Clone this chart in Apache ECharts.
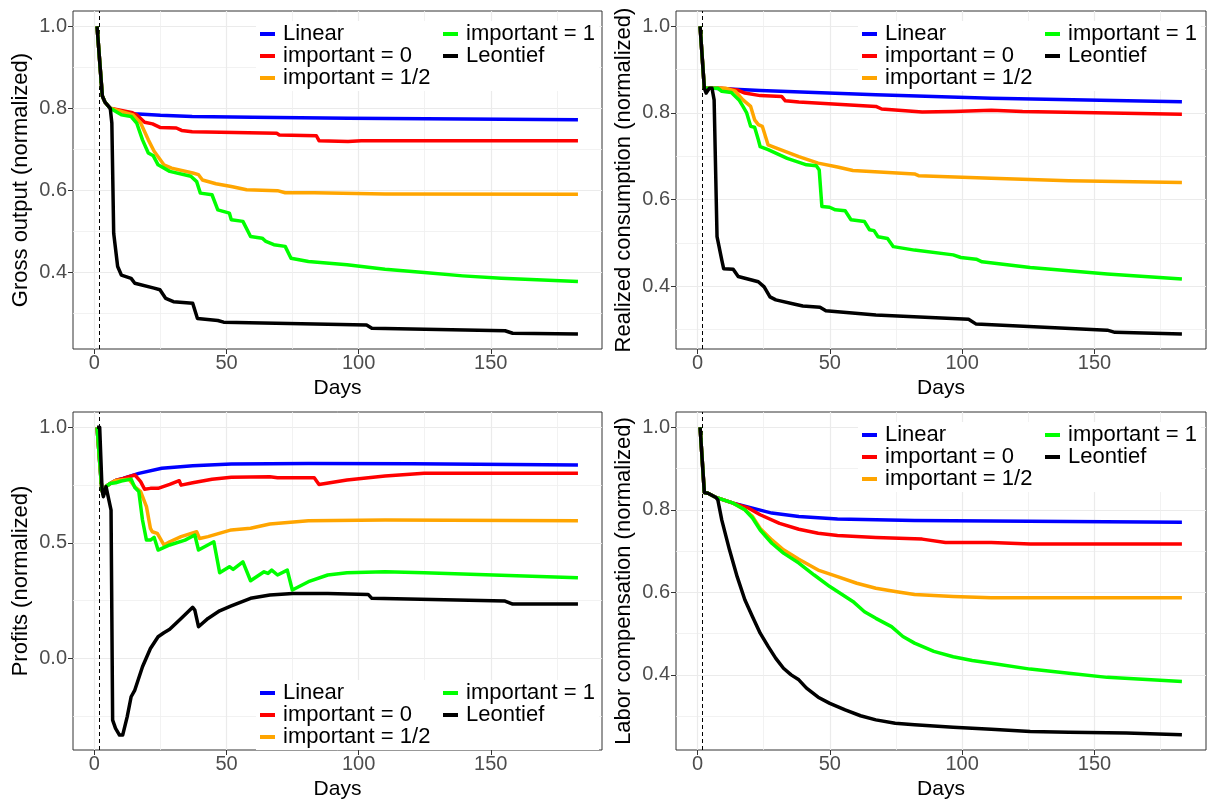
<!DOCTYPE html>
<html>
<head>
<meta charset="utf-8">
<script src="https://cdn.jsdelivr.net/npm/echarts@6/dist/echarts.min.js"></script>
<style>
html,body{margin:0;padding:0;background:#fff;}
#chart{width:1210px;height:803px;}
</style>
</head>
<body>
<div id="chart"></div>
<script>
// ---------- DATA ----------
const seriesNames = ['Linear', 'important = 0', 'important = 1/2', 'important = 1', 'Leontief'];
const seriesColors = ['#0000FF', '#FF0000', '#FFA500', '#00FF00', '#000000'];
const xMajorTicks = [0, 50, 100, 150];
const xMinorTicks = [25, 75, 125, 175];
const yTicksA = [0.4, 0.6, 0.8, 1.0];
const yMinorA = [0.3, 0.5, 0.7, 0.9];
const yTicksProfits = [0.0, 0.5, 1.0];
const yMinorProfits = [-0.25, 0.25, 0.75];
const shockDay = 2;

// Gross output
const grossLinear = [[1,1],[1.5,1],[3,0.83],[4,0.815],[6,0.80],[10,0.792],[15,0.787],[25,0.783],[37,0.780],[60,0.778],[96,0.776],[140,0.774],[183,0.772]];
const grossImp0 = [[1,1],[1.5,1],[3,0.83],[4,0.815],[6,0.80],[14,0.79],[16,0.784],[19,0.766],[22,0.762],[25,0.753],[31,0.752],[33,0.746],[37,0.743],[69,0.739],[70,0.735],[84,0.733],[85,0.721],[96,0.719],[101,0.721],[183,0.721]];
const grossImpHalf = [[1,1],[1.5,1],[3,0.83],[4,0.815],[6,0.80],[14.6,0.784],[17.5,0.764],[20.4,0.723],[22.6,0.695],[26.3,0.662],[29.2,0.654],[37.2,0.642],[39.4,0.638],[40.9,0.625],[46,0.616],[51.8,0.609],[57.6,0.601],[69.3,0.599],[72.2,0.594],[83.2,0.594],[83.9,0.591],[110,0.591],[183,0.590]];
const grossImp1 = [[1,1],[1.5,1],[3,0.83],[4,0.815],[6,0.80],[10.2,0.784],[13.9,0.78],[16,0.764],[18.2,0.723],[20.4,0.691],[22.3,0.684],[24.1,0.662],[28.5,0.646],[36.5,0.634],[38.7,0.621],[40.1,0.593],[44.5,0.589],[46.7,0.552],[51.1,0.544],[51.8,0.528],[56.2,0.524],[59.1,0.487],[63.5,0.483],[64.9,0.475],[67.9,0.467],[72.2,0.463],[74.4,0.434],[81,0.426],[95.6,0.418],[110,0.407],[124.8,0.399],[139.4,0.391],[154,0.385],[183,0.377]];
const grossLeontief = [[1,1],[1.5,1],[3,0.83],[4,0.815],[6,0.80],[6.6,0.764],[7.3,0.495],[8.8,0.414],[10.2,0.393],[13.9,0.385],[15.3,0.373],[22.6,0.361],[24.8,0.357],[27,0.336],[29.9,0.328],[37.2,0.324],[39,0.287],[46.7,0.282],[48.9,0.278],[103,0.271],[105,0.263],[155.4,0.257],[158.3,0.251],[183,0.249]];

// Realized consumption
const consLinear = [[1,1],[1.5,1],[2.6,0.857],[6,0.857],[23.7,0.852],[67.4,0.842],[111,0.834],[183,0.826]];
const consImp0 = [[1,1],[1.5,1],[2.6,0.857],[9.2,0.857],[15,0.853],[17.9,0.846],[23.7,0.84],[31.8,0.838],[33.2,0.828],[38.3,0.825],[67.4,0.815],[69.6,0.809],[84.9,0.802],[96.6,0.803],[111,0.806],[122.8,0.803],[183,0.797]];
const consImpHalf = [[1,1],[1.5,1],[2.6,0.857],[10.6,0.857],[14.3,0.85],[17.2,0.83],[20.1,0.815],[21.6,0.784],[23,0.773],[24.5,0.769],[26.7,0.726],[29.6,0.719],[38.3,0.699],[45.6,0.684],[52.9,0.675],[58.7,0.667],[82,0.659],[83.5,0.655],[111,0.649],[140.3,0.643],[183,0.639]];
const consImp1 = [[1,1],[1.5,1],[2.6,0.857],[7.7,0.857],[9.2,0.85],[12.8,0.847],[15.7,0.83],[17.2,0.815],[18.6,0.8],[20.1,0.769],[21.6,0.767],[23,0.738],[23.7,0.722],[26.7,0.715],[33.9,0.695],[41.2,0.68],[44.9,0.678],[46,0.668],[47,0.584],[49.9,0.582],[52.1,0.576],[55.8,0.574],[58,0.553],[63.1,0.549],[65,0.53],[66.7,0.528],[68.2,0.514],[71.8,0.51],[74,0.491],[82,0.483],[96.6,0.472],[99.5,0.466],[105.3,0.462],[107.5,0.456],[125.7,0.443],[154.8,0.428],[183,0.416]];
const consLeontief = [[1,1],[1.5,1],[2.6,0.857],[3.3,0.846],[4.5,0.857],[5.5,0.857],[6.3,0.83],[7.4,0.514],[9.2,0.46],[9.9,0.44],[13.5,0.439],[15.4,0.422],[23,0.41],[25.2,0.398],[27.4,0.375],[29.6,0.368],[36.8,0.358],[39.8,0.354],[46.3,0.351],[48.5,0.343],[67.4,0.333],[102.4,0.323],[105.3,0.312],[154.8,0.298],[157.7,0.293],[183,0.289]];

// Profits
const profLinear = [[1,1],[1.5,1],[2.8,0.73],[3.4,0.71],[4.5,0.745],[6,0.757],[8,0.77],[10.9,0.779],[16.8,0.801],[25.5,0.823],[37.2,0.834],[51.8,0.841],[81,0.844],[120,0.843],[183,0.837]];
const profImp0 = [[1,1],[1.5,1],[2.8,0.73],[3.4,0.71],[4.5,0.745],[6,0.757],[8,0.77],[10.9,0.779],[15.3,0.794],[17.5,0.765],[19,0.732],[21.2,0.736],[24.1,0.736],[28.5,0.753],[32.1,0.769],[32.8,0.75],[37.2,0.76],[44.5,0.775],[51.8,0.784],[66.4,0.786],[69.3,0.782],[83.2,0.782],[85,0.753],[95.6,0.772],[110,0.789],[124.8,0.801],[183,0.801]];
const profImpHalf = [[1,1],[1.5,1],[2.8,0.73],[3.4,0.71],[4.5,0.745],[6,0.757],[8,0.77],[13.1,0.775],[15.3,0.743],[17.5,0.722],[19.7,0.657],[21.2,0.563],[21.9,0.548],[23.8,0.541],[26.3,0.491],[28.5,0.505],[32.8,0.527],[38.7,0.548],[39.8,0.519],[43,0.527],[51.8,0.556],[59.1,0.563],[66.4,0.582],[81,0.596],[110,0.599],[183,0.596]];
const profImp1 = [[1,1],[1.5,1],[2.8,0.73],[3.4,0.71],[4.5,0.745],[6,0.757],[8,0.76],[10.2,0.768],[13.9,0.776],[15.3,0.74],[16.8,0.722],[18.2,0.599],[19.7,0.512],[21.2,0.512],[22.6,0.524],[24.1,0.469],[28.5,0.491],[34.3,0.512],[38,0.534],[39.4,0.469],[45.2,0.505],[47.4,0.371],[51.1,0.397],[52.5,0.385],[56.2,0.418],[59.1,0.336],[64.2,0.375],[65.7,0.368],[67.1,0.382],[69.3,0.361],[73,0.382],[74.9,0.296],[81,0.332],[88.3,0.361],[95.6,0.371],[110,0.375],[124.8,0.371],[183,0.349]];
const profLeontief = [[1,1],[2,1],[2.9,0.729],[3.4,0.7],[4.4,0.743],[5.1,0.75],[6.3,0.642],[6.9,-0.267],[8,-0.303],[9.5,-0.332],[10.7,-0.332],[12.4,-0.253],[13.9,-0.166],[15.3,-0.137],[18.2,-0.036],[21.2,0.043],[24.1,0.094],[26.3,0.111],[28.5,0.126],[32.8,0.173],[37.2,0.221],[38,0.209],[39.4,0.137],[43,0.173],[47.4,0.206],[51.8,0.227],[59.1,0.26],[66.4,0.274],[75.1,0.281],[88.3,0.281],[103.6,0.277],[105,0.26],[155.4,0.248],[158.3,0.235],[183,0.235]];

// Labor compensation
const laborLinear = [[1,1],[1.5,1],[2.6,0.842],[4,0.84],[7,0.83],[13.5,0.816],[20.8,0.804],[28.1,0.792],[38.3,0.784],[52.9,0.778],[82,0.774],[183,0.77]];
const laborImp0 = [[1,1],[1.5,1],[2.6,0.842],[4,0.84],[7,0.83],[13.5,0.816],[19.4,0.804],[23.7,0.788],[31,0.767],[38.3,0.753],[45.6,0.743],[52.9,0.738],[67.4,0.733],[84.9,0.729],[93.7,0.721],[111,0.721],[125.7,0.717],[183,0.717]];
const laborImpHalf = [[1,1],[1.5,1],[2.6,0.842],[4,0.84],[7,0.83],[13.5,0.816],[17.9,0.80],[20.8,0.784],[23.7,0.755],[28.1,0.727],[32.5,0.703],[38.3,0.68],[45.6,0.654],[52.9,0.638],[60.2,0.622],[67.4,0.61],[74.7,0.602],[82,0.595],[96.6,0.59],[111,0.587],[183,0.587]];
const laborImp1 = [[1,1],[1.5,1],[2.6,0.842],[4,0.84],[7,0.83],[13.5,0.816],[17.9,0.80],[20.8,0.78],[23.7,0.751],[28.1,0.719],[32.5,0.695],[38.3,0.671],[44.1,0.642],[50,0.614],[55.8,0.59],[58.7,0.578],[63.1,0.553],[67.4,0.537],[73.3,0.517],[77.6,0.493],[82,0.477],[89.3,0.457],[96.6,0.444],[103.8,0.435],[111,0.428],[125.7,0.414],[140.3,0.404],[154.8,0.394],[183,0.384]];
const laborLeontief = [[1,1],[1.5,1],[2.6,0.842],[4,0.84],[7,0.83],[7.7,0.824],[9.2,0.775],[12.1,0.703],[15,0.638],[17.9,0.582],[20.8,0.541],[23.7,0.501],[26.7,0.469],[29.6,0.44],[32.5,0.416],[35.4,0.4],[38.3,0.388],[41.2,0.368],[45.6,0.346],[50,0.331],[55.8,0.315],[61.6,0.301],[67.4,0.291],[74.7,0.283],[82,0.279],[96.6,0.273],[111,0.268],[125.7,0.263],[140.3,0.261],[162,0.259],[183,0.255]];

// ---------- LAYOUT / STYLE ----------
const FONT = '"Liberation Sans", Arial, Helvetica, sans-serif';
const panels = [
  {title: 'Gross output (normalized)', series: [grossLinear, grossImp0, grossImpHalf, grossImp1, grossLeontief],
   yMin: 0.2125, yMax: 1.0375, major: yTicksA, minor: yMinorA,
   grid: {left: 73, top: 11, width: 529, height: 338}, legend: {left: 256, left2: 439, top: 21}},
  {title: 'Realized consumption (normalized)', series: [consLinear, consImp0, consImpHalf, consImp1, consLeontief],
   yMin: 0.2545, yMax: 1.0355, major: yTicksA, minor: yMinorA,
   grid: {left: 676, top: 11, width: 530, height: 338}, legend: {left: 858, left2: 1041, top: 21}},
  {title: 'Profits (normalized)', series: [profLinear, profImp0, profImpHalf, profImp1, profLeontief],
   yMin: -0.3965, yMax: 1.0665, major: yTicksProfits, minor: yMinorProfits,
   grid: {left: 73, top: 412, width: 529, height: 338}, legend: {left: 256, left2: 439, top: 680}},
  {title: 'Labor compensation (normalized)', series: [laborLinear, laborImp0, laborImpHalf, laborImp1, laborLeontief],
   yMin: 0.218, yMax: 1.037, major: yTicksA, minor: yMinorA,
   grid: {left: 676, top: 412, width: 530, height: 338}, legend: {left: 858, left2: 1041, top: 422}}
];

const grids = [], xAxes = [], yAxes = [], series = [], legends = [];
const X_MIN = -8.1, X_MAX = 192.1;

panels.forEach((p, i) => {
  grids.push(Object.assign({show: true, borderColor: '#333333', borderWidth: 1, backgroundColor: 'transparent',
    containLabel: false, outerBoundsMode: 'none'}, p.grid));
  xAxes.push({
    type: 'value', gridIndex: i, min: X_MIN, max: X_MAX, position: 'bottom',
    name: 'Days', nameLocation: 'middle', nameGap: 29,
    nameTextStyle: {fontSize: 21, color: '#000', fontFamily: FONT},
    axisLine: {show: false, onZero: false},
    axisTick: {show: true, length: 5, customValues: xMajorTicks, lineStyle: {color: '#333333', width: 1}},
    axisLabel: {show: true, customValues: xMajorTicks, fontSize: 20, color: '#4D4D4D', margin: 4, fontFamily: FONT,
      formatter: v => String(Math.round(v))},
    splitLine: {show: true, lineStyle: {color: '#EBEBEB', width: 1.2}}
  });
  xAxes.push({
    type: 'value', gridIndex: i, min: X_MIN, max: X_MAX, position: 'bottom',
    axisLine: {show: false, onZero: false},
    axisTick: {show: false, customValues: xMinorTicks},
    axisLabel: {show: false, customValues: xMinorTicks},
    splitLine: {show: true, lineStyle: {color: '#EFEFEF', width: 0.8}}
  });
  yAxes.push({
    type: 'value', gridIndex: i, min: p.yMin, max: p.yMax, position: 'left',
    name: p.title, nameLocation: 'middle', nameGap: 41,
    nameTextStyle: {fontSize: 22, color: '#000', fontFamily: FONT},
    axisLine: {show: false, onZero: false},
    axisTick: {show: true, length: 5, customValues: p.major, lineStyle: {color: '#333333', width: 1}},
    axisLabel: {show: true, customValues: p.major, fontSize: 20, color: '#4D4D4D', margin: 6, fontFamily: FONT,
      formatter: v => v.toFixed(1)},
    splitLine: {show: true, lineStyle: {color: '#EBEBEB', width: 1.2}}
  });
  yAxes.push({
    type: 'value', gridIndex: i, min: p.yMin, max: p.yMax, position: 'left',
    axisLine: {show: false, onZero: false},
    axisTick: {show: false, customValues: p.minor},
    axisLabel: {show: false, customValues: p.minor},
    splitLine: {show: true, lineStyle: {color: '#EFEFEF', width: 0.8}}
  });

  p.series.forEach((d, s) => {
    const ser = {
      type: 'line', name: seriesNames[s], xAxisIndex: 2 * i, yAxisIndex: 2 * i,
      data: d, showSymbol: false, symbol: 'none', animation: false, silent: true,
      color: seriesColors[s],
      lineStyle: {width: 3.5, color: seriesColors[s], join: 'round', cap: 'butt'},
      z: 3 + s
    };
    if (s === 0) {
      ser.markLine = {
        silent: true, symbol: ['none', 'none'], animation: false,
        label: {show: false},
        lineStyle: {type: [4, 3], color: '#000', width: 1},
        data: [{xAxis: shockDay}]
      };
    }
    series.push(ser);
  });

  const legBase = {
    orient: 'vertical', itemWidth: 15, itemHeight: 4, itemGap: 0, icon: 'rect',
    selectedMode: false, backgroundColor: '#ffffff',
    textStyle: {fontSize: 22, lineHeight: 21.5, color: '#000', fontFamily: FONT, padding: [0, 0, 0, 3]}
  };
  legends.push(Object.assign({}, legBase, {
    data: seriesNames.slice(0, 3), left: p.legend.left, top: p.legend.top, padding: [2, 10, 2, 4]
  }));
  legends.push(Object.assign({}, legBase, {
    data: seriesNames.slice(3), left: p.legend.left2, top: p.legend.top, padding: [2, 4, 24, 4]
  }));
});

const chart = echarts.init(document.getElementById('chart'), null, {renderer: 'canvas'});
chart.setOption({
  animation: false,
  backgroundColor: '#ffffff',
  textStyle: {fontFamily: FONT},
  grid: grids,
  xAxis: xAxes,
  yAxis: yAxes,
  legend: legends,
  series: series
});
</script>
</body>
</html>
